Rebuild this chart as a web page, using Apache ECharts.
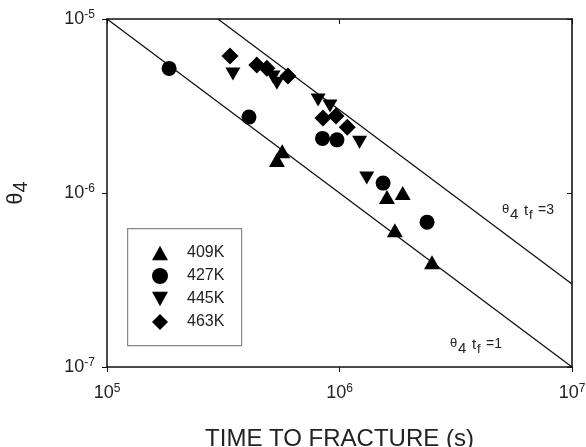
<!DOCTYPE html>
<html>
<head>
<meta charset="utf-8">
<script src="https://cdn.jsdelivr.net/npm/echarts@6/dist/echarts.min.js"></script>
<style>
  html, body { margin: 0; padding: 0; background: #fff; }
  #chart { width: 586px; height: 447px; }
</style>
</head>
<body>
<div id="chart"></div>
<script>
// Axis decades (exponents of 10) used for ticks and labels
const xTickExponents = [5, 6, 7];
const yTickExponents = [-7, -6, -5];

// Temperatures shown in the legend
const seriesNames = ['409K', '427K', '445K', '463K'];

// Time to fracture (s) and theta_4 for each temperature
const t409 = [5.67e5, 5.38e5, 1.60e6, 1.87e6, 1.73e6, 2.50e6];
const th409 = [1.74e-6, 1.55e-6, 9.5e-7, 1.0e-6, 6.1e-7, 4.0e-7];

const t427 = [1.85e5, 4.08e5, 8.45e5, 9.75e5, 1.54e6, 2.38e6];
const th427 = [5.2e-6, 2.73e-6, 2.06e-6, 2.02e-6, 1.14e-6, 6.8e-7];

const t445 = [3.48e5, 5.18e5, 5.38e5, 8.09e5, 9.1e5, 1.22e6, 1.31e6];
const th445 = [4.83e-6, 4.64e-6, 4.28e-6, 3.42e-6, 3.16e-6, 1.96e-6, 1.22e-6];

const t463 = [3.38e5, 4.41e5, 4.87e5, 6.0e5, 8.49e5, 9.66e5, 1.08e6];
const th463 = [6.12e-6, 5.44e-6, 5.22e-6, 4.7e-6, 2.70e-6, 2.77e-6, 2.39e-6];

// Constant-product lines theta_4 * t_f = 1 and = 3 (end points)
const lineOneT = [1e5, 1e7];
const lineOneTh = [1e-5, 1e-7];
const lineThreeT = [3e5, 1e7];
const lineThreeTh = [1e-5, 3e-7];

const pair = (xs, ys) => xs.map((x, i) => [x, ys[i]]);

const FONT = '"Liberation Sans", Arial, Helvetica, sans-serif';
const INK = '#222';

const xMin = Math.pow(10, xTickExponents[0]);
const xMax = Math.pow(10, xTickExponents[xTickExponents.length - 1]);
const yMin = Math.pow(10, yTickExponents[0]);
const yMax = Math.pow(10, yTickExponents[yTickExponents.length - 1]);

const powLabel = v => '{b|10}{s|' + Math.round(Math.log10(v)) + '}';
const powRich = {
  b: { fontSize: 18, fontFamily: FONT, color: INK, lineHeight: 20 },
  s: { fontSize: 12, fontFamily: FONT, color: INK, verticalAlign: 'top', lineHeight: 20, padding: [0, 0, 8, 0] }
};

const downTriangle = 'path://M0,0 L10,0 L5,9 Z';
const upTriangle = 'path://M5,0 L10,9 L0,9 Z';

const chart = echarts.init(document.getElementById('chart'), null, { renderer: 'canvas' });

function productLabel(x, y, n) {
  const base = { fill: INK, fontFamily: FONT, verticalAlign: 'top', align: 'left' };
  return {
    type: 'group',
    left: x, top: y,
    children: [
      { type: 'text', x: 0, y: 0, style: Object.assign({ text: 'θ', fontSize: 13 }, base) },
      { type: 'text', x: 8, y: 4, style: Object.assign({ text: '4', fontSize: 15 }, base) },
      { type: 'text', x: 22, y: 0, style: Object.assign({ text: 't', fontSize: 15 }, base) },
      { type: 'text', x: 27, y: 6, style: Object.assign({ text: 'f', fontSize: 13 }, base) },
      { type: 'text', x: 36, y: 0, style: Object.assign({ text: '=' + n, fontSize: 14 }, base) }
    ]
  };
}

const axisLine = { show: true, lineStyle: { color: '#111', width: 1.5 } };

chart.setOption({
  animation: false,
  backgroundColor: '#fff',
  grid: { left: 107, top: 19, right: 14, bottom: 80, containLabel: false, outerBoundsMode: 'none' },
  xAxis: [
    {
      type: 'log', logBase: 10, min: xMin, max: xMax, position: 'bottom',
      axisLine: axisLine,
      axisTick: { show: true, inside: false, length: 5, lineStyle: { color: '#111' } },
      splitLine: { show: false },
      minorTick: { show: false },
      axisLabel: { formatter: powLabel, rich: powRich, margin: 16 },
      name: 'TIME TO FRACTURE (s)',
      nameLocation: 'middle',
      nameGap: 60,
      nameTextStyle: { fontSize: 24, fontFamily: FONT, color: INK }
    },
    {
      type: 'log', logBase: 10, min: xMin, max: xMax, position: 'top',
      axisLine: axisLine,
      axisTick: { show: true, inside: true, length: 5, lineStyle: { color: '#111' } },
      splitLine: { show: false },
      axisLabel: { show: false }
    }
  ],
  yAxis: [
    {
      type: 'log', logBase: 10, min: yMin, max: yMax, position: 'left',
      axisLine: axisLine,
      axisTick: { show: true, inside: false, length: 5, lineStyle: { color: '#111' } },
      splitLine: { show: false },
      axisLabel: { formatter: powLabel, rich: powRich, margin: 12 },
      name: '{b|θ}{s|4}',
      nameLocation: 'middle',
      nameRotate: 90,
      nameGap: 78,
      nameTextStyle: {
        rich: {
          b: { fontSize: 22, fontFamily: FONT, color: INK, lineHeight: 26 },
          s: { fontSize: 20, fontFamily: FONT, color: INK, lineHeight: 26, padding: [10, 0, 0, 0] }
        }
      }
    },
    {
      type: 'log', logBase: 10, min: yMin, max: yMax, position: 'right',
      axisLine: { show: true, lineStyle: { color: '#444', width: 2 } },
      axisTick: { show: true, inside: true, length: 5, lineStyle: { color: '#111' } },
      splitLine: { show: false },
      axisLabel: { show: false }
    }
  ],
  legend: {
    data: seriesNames,
    orient: 'vertical',
    left: 152, top: 245,
    padding: 0,
    itemWidth: 16, itemHeight: 16, itemGap: 7,
    textStyle: { fontSize: 16, fontFamily: FONT, color: INK, padding: [0, 0, 0, 14] },
    selectedMode: false
  },
  graphic: [
    {
      type: 'rect', left: 127, top: 228, z: -1,
      shape: { width: 114, height: 117 },
      style: { fill: '#fff', stroke: '#888', lineWidth: 1.2 }
    },
    productLabel(502, 203, 3),
    productLabel(450, 337, 1)
  ],
  series: [
    {
      type: 'line', data: pair(lineOneT, lineOneTh), symbol: 'none', silent: true,
      lineStyle: { color: '#111', width: 1.3 }, z: 1
    },
    {
      type: 'line', data: pair(lineThreeT, lineThreeTh), symbol: 'none', silent: true,
      lineStyle: { color: '#111', width: 1.3 }, z: 1
    },
    {
      name: seriesNames[0], type: 'scatter', data: pair(t409, th409),
      symbol: upTriangle, symbolSize: [16, 14], itemStyle: { color: '#000', opacity: 1 }, z: 3
    },
    {
      name: seriesNames[1], type: 'scatter', data: pair(t427, th427),
      symbol: 'circle', symbolSize: 15, itemStyle: { color: '#000', opacity: 1 }, z: 3
    },
    {
      name: seriesNames[2], type: 'scatter', data: pair(t445, th445),
      symbol: downTriangle, symbolSize: [15, 13], itemStyle: { color: '#000', opacity: 1 }, z: 3
    },
    {
      name: seriesNames[3], type: 'scatter', data: pair(t463, th463),
      symbol: 'diamond', symbolSize: [17, 17], itemStyle: { color: '#000', opacity: 1 }, z: 3
    }
  ]
});
</script>
</body>
</html>
